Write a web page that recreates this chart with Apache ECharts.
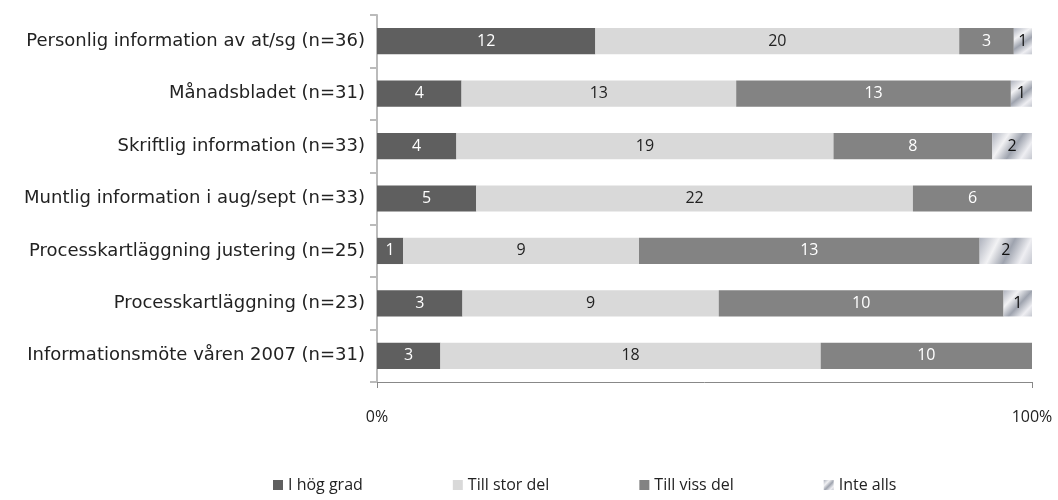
<!DOCTYPE html>
<html><head><meta charset="utf-8">
<script src="https://cdn.jsdelivr.net/npm/echarts@6/dist/echarts.min.js"></script>
<style>html,body{margin:0;padding:0;background:#fff}#c{width:1058px;height:500px}</style>
</head><body><div id="c"></div>
<script>
const categories = [
  'Personlig information av at/sg (n=36)',
  'Månadsbladet (n=31)',
  'Skriftlig information (n=33)',
  'Muntlig information i aug/sept (n=33)',
  'Processkartläggning justering (n=25)',
  'Processkartläggning (n=23)',
  'Informationsmöte våren 2007 (n=31)'
];
const iHogGrad   = [12, 4, 4, 5, 1, 3, 3];
const tillStorDel = [20, 13, 19, 22, 9, 9, 18];
const tillVissDel = [3, 13, 8, 6, 13, 10, 10];
const inteAlls   = [1, 1, 2, 0, 2, 1, 0];
const seriesNames = ['I hög grad', 'Till stor del', 'Till viss del', 'Inte alls'];
const xTickLabels = ['0%', '100%'];

const all = [iHogGrad, tillStorDel, tillVissDel, inteAlls];
const totals = categories.map((_, i) => all.reduce((s, a) => s + a[i], 0));

const gradient = new echarts.graphic.LinearGradient(0, 0, 1, 1, [
  {offset: 0, color: '#aeb2bd'},
  {offset: 0.3, color: '#f2f2f4'},
  {offset: 0.55, color: '#9ea3ae'},
  {offset: 0.8, color: '#eeeef2'},
  {offset: 1, color: '#c4c7cf'}
]);
const colors = ['#5f5f5f', '#d9d9d9', '#838383', gradient];
const labelColors = ['#ffffff', '#222222', '#ffffff', '#111111'];
const font = '"Open Sans", sans-serif';
const catFont = '"DejaVu Sans", sans-serif';

const series = all.map((arr, si) => ({
  name: seriesNames[si],
  type: 'bar',
  stack: 'total',
  barWidth: '50%',
  data: arr.map((v, i) => ({value: v / totals[i] * 100, count: v})),
  itemStyle: {color: colors[si]},
  label: {
    show: true,
    position: 'inside',
    color: labelColors[si],
    fontFamily: font,
    fontSize: 16,
    formatter: p => p.data.count > 0 ? String(p.data.count) : ''
  }
}));

const chart = echarts.init(document.getElementById('c'));
chart.setOption({
  animation: false,
  grid: {left: 377, right: 26, top: 15, bottom: 118, containLabel: false},
  legend: {
    bottom: 2,
    left: 268,
    itemWidth: 10, itemHeight: 10,
    itemGap: 90,
    icon: 'rect',
    textStyle: {fontFamily: font, fontSize: 16, color: '#222'},
    data: seriesNames
  },
  xAxis: {
    type: 'value', min: 0, max: 100, interval: 100,
    axisLine: {show: true, lineStyle: {color: '#888', width: 1}},
    axisTick: {show: true, length: 6, lineStyle: {color: '#888'}},
    splitLine: {show: false},
    axisLabel: {
      margin: 27, fontFamily: font, fontSize: 16, color: '#222',
      formatter: v => v === 0 ? xTickLabels[0] : xTickLabels[1]
    }
  },
  yAxis: {
    type: 'category', inverse: true, data: categories,
    axisLine: {show: true, lineStyle: {color: '#bbb', width: 2}},
    axisTick: {show: true, length: 7, lineStyle: {color: '#bbb', width: 2}},
    axisLabel: {margin: 12, fontFamily: catFont, fontSize: 18, color: '#222'}
  },
  series: series
});
</script>
</body></html>
